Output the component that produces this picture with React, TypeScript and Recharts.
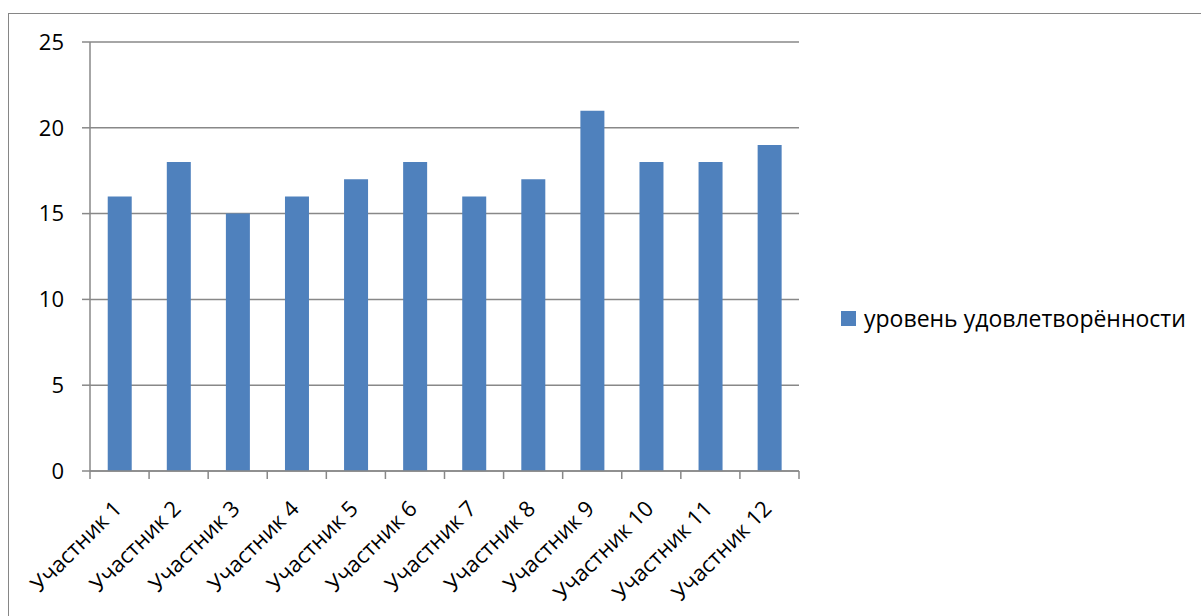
import { BarChart, Bar, XAxis, YAxis, CartesianGrid, Legend } from 'recharts';

const categories = [
  'Участник 1',
  'Участник 2',
  'Участник 3',
  'Участник 4',
  'Участник 5',
  'Участник 6',
  'Участник 7',
  'Участник 8',
  'Участник 9',
  'Участник 10',
  'Участник 11',
  'Участник 12',
];
const satisfaction = [16, 18, 15, 16, 17, 18, 16, 17, 21, 18, 18, 19];
const yTicks = [0, 5, 10, 15, 20, 25];
const seriesName = 'уровень удовлетворённости';

const FONT = '"Open Sans", "Noto Sans", sans-serif';
const AXIS_COLOR = '#888888';
const BAR_COLOR = '#4F81BD';

const CHART_W = 1192;
const CHART_H = 602;
const Y_AXIS_W = 81;
const MARGIN = { top: 28, right: 402, bottom: 0, left: 0 };
// width of one category slot, used for the boundary tick marks
const BAND = (CHART_W - Y_AXIS_W - MARGIN.left - MARGIN.right) / categories.length;

const data = categories.map((name, i) => ({ name, value: satisfaction[i] }));

// category label rotated 45° plus tick marks on the slot edges
function CategoryTick(props: any) {
  const { x, y, payload, index, visibleTicksCount } = props;
  const left = x - BAND / 2;
  const right = x + BAND / 2;
  return (
    <g>
      <line x1={left} y1={y} x2={left} y2={y + 8} stroke={AXIS_COLOR} strokeWidth={1.5} />
      {index === visibleTicksCount - 1 && (
        <line x1={right} y1={y} x2={right} y2={y + 8} stroke={AXIS_COLOR} strokeWidth={1.5} />
      )}
      <text
        transform={`translate(${x + 3.5},${y + 39}) rotate(-45)`}
        textAnchor="end"
        fill="#000"
        fontSize={22}
        fontFamily={FONT}
      >
        {payload.value}
      </text>
    </g>
  );
}

function LegendBox() {
  return (
    <div style={{ display: 'flex', alignItems: 'center', fontFamily: FONT, fontSize: 23, color: '#000' }}>
      <span style={{ width: 15, height: 15, background: BAR_COLOR, marginRight: 8, display: 'inline-block' }} />
      <span style={{ whiteSpace: 'nowrap' }}>{seriesName}</span>
    </div>
  );
}

export default function App() {
  return (
    <div
      style={{
        position: 'absolute',
        left: 8,
        top: 13,
        width: 1193,
        height: 603,
        borderTop: '1px solid #868686',
        borderLeft: '1px solid #868686',
        background: '#fff',
        overflow: 'hidden',
      }}
    >
      <BarChart width={CHART_W} height={CHART_H} data={data} margin={MARGIN} barCategoryGap="30%">
        <CartesianGrid vertical={false} stroke={AXIS_COLOR} strokeWidth={1.5} />
        <XAxis
          dataKey="name"
          interval={0}
          height={145}
          tickLine={false}
          tickSize={0}
          tickMargin={0}
          axisLine={{ stroke: AXIS_COLOR, strokeWidth: 1.5 }}
          tick={<CategoryTick />}
        />
        <YAxis
          width={Y_AXIS_W}
          domain={[0, 25]}
          ticks={yTicks}
          interval={0}
          tickSize={8}
          tickMargin={18}
          axisLine={{ stroke: AXIS_COLOR, strokeWidth: 1.5 }}
          tickLine={{ stroke: AXIS_COLOR, strokeWidth: 1.5 }}
          tick={{ fill: '#000', fontSize: 22, fontFamily: FONT }}
        />
        <Legend
          layout="horizontal"
          align="center"
          verticalAlign="middle"
          wrapperStyle={{ left: 832, top: 288, width: 'auto' }}
          content={<LegendBox />}
        />
        <Bar dataKey="value" name={seriesName} fill={BAR_COLOR} isAnimationActive={false} />
      </BarChart>
    </div>
  );
}
